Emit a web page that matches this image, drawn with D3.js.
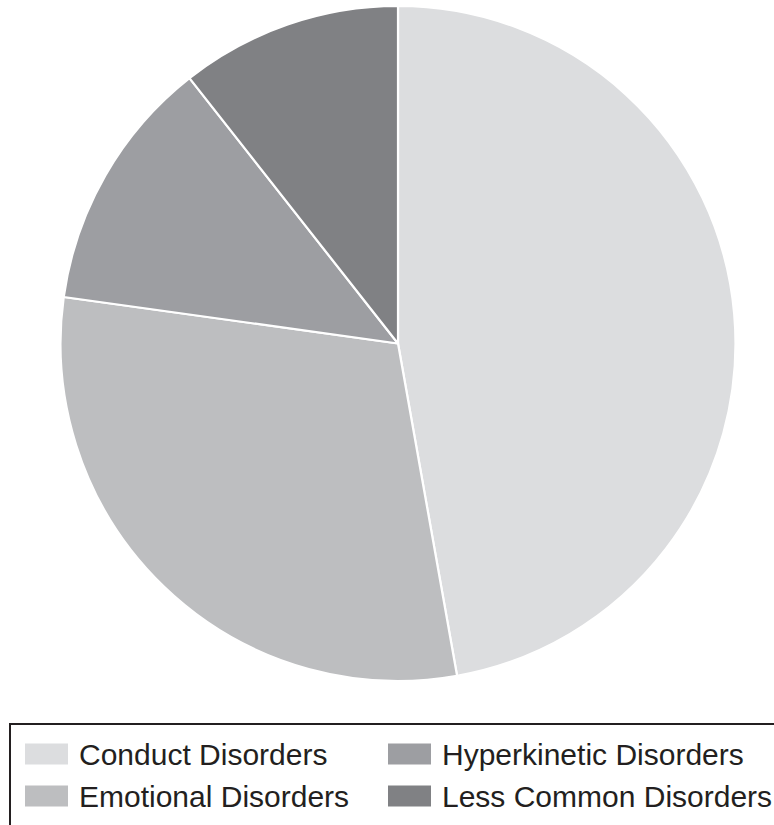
<!DOCTYPE html>
<html>
<head>
<meta charset="utf-8">
<script src="https://cdn.jsdelivr.net/npm/d3@7"></script>
<style>
  html, body { margin: 0; padding: 0; background: #fff; }
  svg { display: block; }
</style>
</head>
<body>
<svg id="chart" width="774" height="825"></svg>
<script>
const categories = ["Conduct Disorders", "Emotional Disorders", "Hyperkinetic Disorders", "Less Common Disorders"];
const values = [47.2, 30.0, 12.2, 10.6];
const colors = ["#dcdddf", "#bdbec0", "#9d9ea2", "#808184"];

const svg = d3.select("#chart");
const cx = 398, cy = 343.5, r = 337.5;

const pie = d3.pie().sort(null).value(d => d.value);
const arc = d3.arc().innerRadius(0).outerRadius(r);
const data = categories.map((c, i) => ({ name: c, value: values[i], color: colors[i] }));

const g = svg.append("g").attr("transform", `translate(${cx},${cy})`);
g.selectAll("path")
  .data(pie(data))
  .join("path")
  .attr("d", arc)
  .attr("fill", d => d.data.color)
  .attr("stroke", "#fff")
  .attr("stroke-width", 2.2)
  .attr("stroke-linejoin", "round");

// Legend
const lg = svg.append("g");
lg.append("path")
  .attr("d", "M10,830 L10,724 L780,724")
  .attr("fill", "none")
  .attr("stroke", "#231f20")
  .attr("stroke-width", 2);

const colX = [25, 388];
const rowY = [743.5, 785.5];
const order = [[0, 0, 0], [1, 0, 1], [2, 1, 0], [3, 1, 1]];
order.forEach(([i, col, row]) => {
  lg.append("rect")
    .attr("x", colX[col]).attr("y", rowY[row])
    .attr("width", 43).attr("height", 21)
    .attr("fill", colors[i]);
  lg.append("text")
    .attr("x", colX[col] + 54).attr("y", rowY[row] + 21.5)
    .attr("font-family", "Liberation Sans, Arial, sans-serif")
    .attr("font-size", 30)
    .attr("fill", "#231f20")
    .text(categories[i]);
});
</script>
</body>
</html>
